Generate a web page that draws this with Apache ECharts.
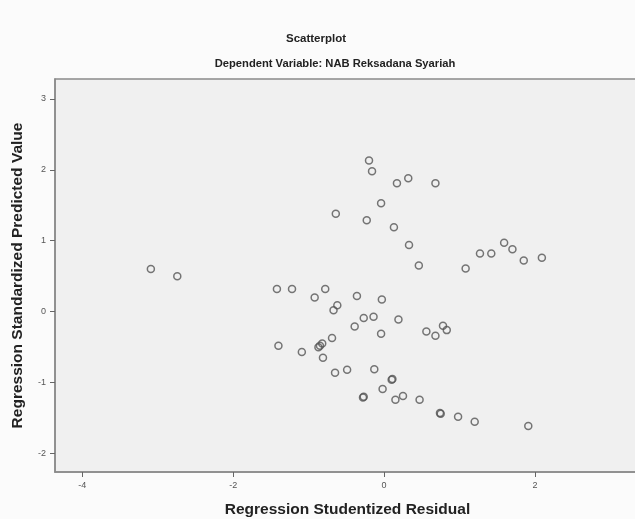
<!DOCTYPE html>
<html>
<head>
<meta charset="utf-8">
<title>Scatterplot</title>
<script src="https://cdn.jsdelivr.net/npm/echarts@6/dist/echarts.min.js"></script>
<style>
html, body { margin: 0; padding: 0; background: #fbfbfb; }
#myChart { width: 635px; height: 519px; }
</style>
</head>
<body>
<div id="myChart"></div>
<script>
// studentized residual (x) and standardized predicted value (y)
var residual = [
	-3.09, -2.74, -1.42, -1.22, -0.78, -0.92, -0.62, -0.67, -0.69, -0.64,
	-0.20, -0.16, 0.17, 0.32, 0.68, -0.04, -0.23, 0.13, 0.33, 0.46,
	1.08, 1.27, 1.42, 1.59, 1.70, 1.85, 2.09, -0.36, -0.03, -0.39,
	-0.27, -0.14, 0.19, -0.04, 0.56, 0.68, 0.78, 0.83, -1.40, -1.09,
	-0.87, -0.82, -0.85, -0.81, -0.65, -0.49, -0.13, 0.10, 0.11, -0.02,
	-0.27, -0.28, 0.15, 0.25, 0.47, 0.75, 0.74, 0.98, 1.20, 1.91
]
var predicted = [
	0.60, 0.50, 0.32, 0.32, 0.32, 0.20, 0.09, 0.02, -0.37, 1.38,
	2.13, 1.98, 1.81, 1.88, 1.81, 1.53, 1.29, 1.19, 0.94, 0.65,
	0.61, 0.82, 0.82, 0.97, 0.88, 0.72, 0.76, 0.22, 0.17, -0.21,
	-0.09, -0.07, -0.11, -0.31, -0.28, -0.34, -0.20, -0.26, -0.48, -0.57,
	-0.50, -0.45, -0.48, -0.65, -0.86, -0.82, -0.81, -0.96, -0.95, -1.09,
	-1.20, -1.21, -1.24, -1.19, -1.24, -1.44, -1.43, -1.48, -1.55, -1.61
]
var xTicks = [-4, -2, 0, 2]
var yTicks = [-2, -1, 0, 1, 2, 3]

var points = residual.map(function (v, i) {
	return [v, predicted[i]]
})

var myChart = echarts.init(document.getElementById('myChart'))
var fontName = 'Liberation Sans, Arial, sans-serif'
var labelFont = { fontFamily: fontName, fontSize: 9, color: '#555' }
var nameFont = { fontFamily: fontName, fontSize: 15.5, fontWeight: 'bold', color: '#222' }

myChart.setOption({
	backgroundColor: '#fbfbfb',
	animation: false,
	title: [
		{
			text: 'Scatterplot',
			left: 311, top: 28, textAlign: 'center',
			textStyle: { fontFamily: fontName, fontSize: 11.5, fontWeight: 'bold', color: '#222' }
		},
		{
			text: 'Dependent Variable: NAB Reksadana Syariah',
			left: 330, top: 53, textAlign: 'center',
			textStyle: { fontFamily: fontName, fontSize: 11.2, fontWeight: 'bold', color: '#222' }
		}
	],
	grid: {
		left: 55, right: -5, top: 79, bottom: 47,
		outerBoundsMode: 'none',
		show: true,
		backgroundColor: '#f0f0f0',
		borderColor: '#8a8a8a',
		borderWidth: 1.5
	},
	xAxis: {
		type: 'value',
		min: -4.36, max: 3.39,
		name: 'Regression Studentized Residual',
		nameLocation: 'middle',
		nameGap: 30,
		nameTextStyle: nameFont,
		axisLine: { show: true, onZero: false, lineStyle: { color: '#8a8a8a', width: 1.5 } },
		splitLine: { show: false },
		axisTick: { show: true, length: 5, lineStyle: { color: '#666' }, customValues: xTicks },
		axisLabel: Object.assign({ margin: 9, customValues: xTicks }, labelFont)
	},
	yAxis: {
		type: 'value',
		min: -2.26, max: 3.28,
		name: 'Regression Standardized Predicted Value',
		nameLocation: 'middle',
		nameGap: 29,
		nameTextStyle: nameFont,
		axisLine: { show: true, onZero: false, lineStyle: { color: '#8a8a8a', width: 1.5 } },
		splitLine: { show: false },
		axisTick: { show: true, length: 5, lineStyle: { color: '#666' }, customValues: yTicks },
		axisLabel: Object.assign({ margin: 9, customValues: yTicks }, labelFont)
	},
	series: [
		{
			type: 'scatter',
			data: points,
			symbol: 'circle',
			symbolSize: 7,
			itemStyle: {
				color: 'rgba(0,0,0,0)',
				borderColor: '#555',
				borderWidth: 1.5
			}
		}
	]
})
</script>
</body>
</html>
